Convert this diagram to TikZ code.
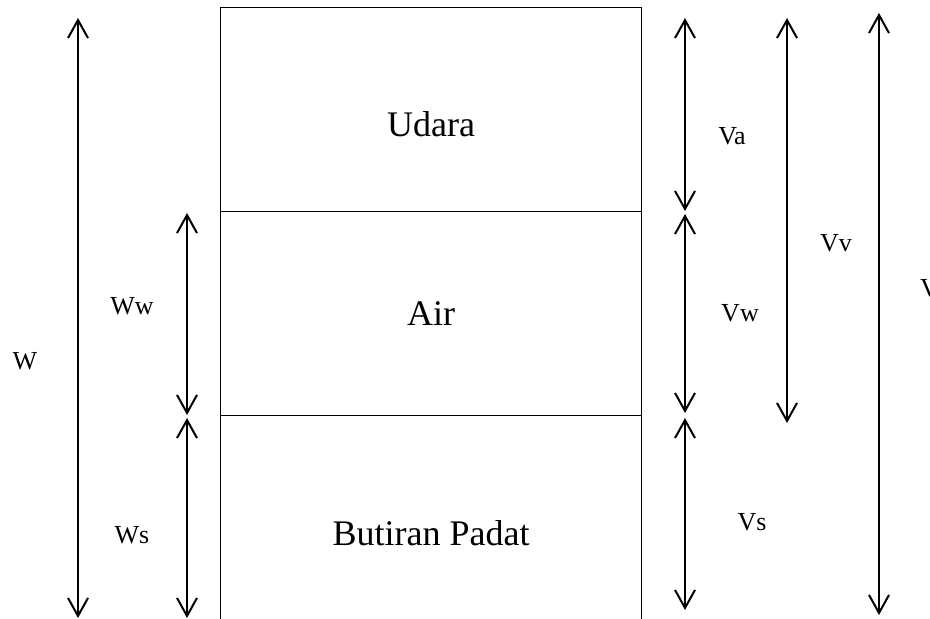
\documentclass[tikz,border=0pt]{standalone}
\usepackage{fontspec}
\setmainfont{Liberation Serif}
\usetikzlibrary{arrows.meta}
\begin{document}
\begin{tikzpicture}[x=0.5pt,y=-0.5pt,
  phase/.style={line width=0.5pt,draw=black},
  dimarrow/.style={line width=1pt,{Straight Barb[length=9pt,width=10pt]}-{Straight Barb[length=9pt,width=10pt]}},
  phasetext/.style={font=\fontsize{18}{20}\selectfont,anchor=base,inner sep=0pt},
  dimtext/.style={font=\fontsize{13}{15}\selectfont,anchor=base,inner sep=0pt}]
\useasboundingbox (0,0) rectangle (930,619);
\clip (0,0) rectangle (930,619);

% soil column: three stacked phases, open at the bottom
\coordinate (tl) at (220,8);
\coordinate (tr) at (641,8);
\coordinate (bl) at (220,619);
\coordinate (br) at (641,619);
\coordinate (d1l) at (220,212);
\coordinate (d1r) at (641,212);
\coordinate (d2l) at (220,416);
\coordinate (d2r) at (641,416);
\draw[phase] (bl) -- (tl) -- (tr) -- (br);
\draw[phase] (d1l) -- (d1r);
\draw[phase] (d2l) -- (d2r);

\node[phasetext] (udara) at (431,137) {Udara};
\node[phasetext] (air) at (431,326) {Air};
\node[phasetext] (padat) at (431,545) {Butiran Padat};

% weights on the left
\coordinate (wt) at (78,18);   \coordinate (wb) at (78,618);
\coordinate (wwt) at (187,213); \coordinate (wwb) at (187,415);
\coordinate (wst) at (187,418); \coordinate (wsb) at (187,618);
\draw[dimarrow] (wt) -- (wb);
\draw[dimarrow] (wwt) -- (wwb);
\draw[dimarrow] (wst) -- (wsb);
\node[dimtext] (lw) at (25,370) {W};
\node[dimtext] (lww) at (132,315) {Ww};
\node[dimtext] (lws) at (132,543) {Ws};

% volumes on the right
\coordinate (vat) at (685,18);  \coordinate (vab) at (685,211);
\coordinate (vwt) at (685,214); \coordinate (vwb) at (685,413);
\coordinate (vst) at (685,418); \coordinate (vsb) at (685,610);
\coordinate (vvt) at (787,18);  \coordinate (vvb) at (787,423);
\coordinate (vt) at (879,13);   \coordinate (vb) at (879,615);
\draw[dimarrow] (vat) -- (vab);
\draw[dimarrow] (vwt) -- (vwb);
\draw[dimarrow] (vst) -- (vsb);
\draw[dimarrow] (vvt) -- (vvb);
\draw[dimarrow] (vt) -- (vb);
\node[dimtext] (lva) at (732,145) {Va};
\node[dimtext] (lvw) at (740,322) {Vw};
\node[dimtext] (lvs) at (752,530) {Vs};
\node[dimtext] (lvv) at (836,252) {Vv};
\node[dimtext] (lv) at (929.5,297) {V};
\end{tikzpicture}
\end{document}
